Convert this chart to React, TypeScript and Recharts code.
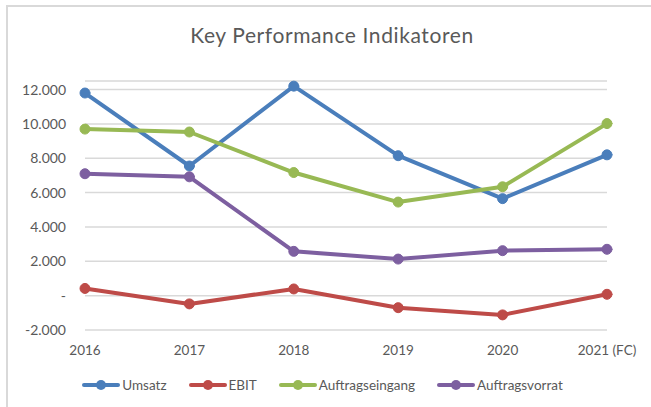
import { LineChart, Line, XAxis, YAxis, CartesianGrid, Legend } from 'recharts'

const years = ['2016', '2017', '2018', '2019', '2020', '2021 (FC)']
const umsatz = [11800, 7550, 12200, 8150, 5650, 8200]
const ebit = [420, -480, 390, -700, -1120, 80]
const auftragseingang = [9700, 9530, 7170, 5450, 6340, 10020]
const auftragsvorrat = [7100, 6920, 2580, 2130, 2620, 2700]
const yTicks = [-2000, 0, 2000, 4000, 6000, 8000, 10000, 12000]

const series = [
  { key: 'umsatz', name: 'Umsatz', color: '#4A7EBB' },
  { key: 'ebit', name: 'EBIT', color: '#BE4B48' },
  { key: 'eingang', name: 'Auftragseingang', color: '#98B954' },
  { key: 'vorrat', name: 'Auftragsvorrat', color: '#7D5FA0' },
]

const data = years.map((year, i) => ({
  year,
  umsatz: umsatz[i],
  ebit: ebit[i],
  eingang: auftragseingang[i],
  vorrat: auftragsvorrat[i],
}))

const font = 'Lato, "Noto Sans", sans-serif'
const textColor = '#595959'

// 12000 -> "12.000", 0 -> "-"
const formatY = (v: number) => {
  if (v === 0) return '-'
  const s = Math.abs(v).toString().replace(/\B(?=(\d{3})+(?!\d))/g, '.')
  return v < 0 ? '-' + s : s
}

function LegendContent() {
  return (
    <div style={{ display: 'flex', justifyContent: 'center', paddingLeft: 16, height: 22, alignItems: 'center' }}>
      {series.map((s) => (
        <div key={s.key} style={{ display: 'flex', alignItems: 'center', marginRight: 22 }}>
          <svg width={38} height={12} style={{ marginRight: 2 }}>
            <line x1={2} y1={6} x2={36} y2={6} stroke={s.color} strokeWidth={4} strokeLinecap="round" />
            <circle cx={19} cy={6} r={5} fill={s.color} />
          </svg>
          <span style={{ fontFamily: font, fontSize: 13.5, color: textColor }}>{s.name}</span>
        </div>
      ))}
    </div>
  )
}

export default function App() {
  return (
    <div style={{ position: 'absolute', left: 0, top: 0, width: 651, height: 407, background: '#fff', overflow: 'hidden' }}>
      <div style={{ position: 'absolute', left: 6, top: 5, width: 700, height: 500, borderTop: '2px solid #d9d9d9', borderLeft: '2px solid #d9d9d9' }} />
      <div style={{ position: 'absolute', left: 0, width: 664, top: 22, textAlign: 'center', fontFamily: font, fontSize: 21, color: textColor, letterSpacing: 0.6 }}>
        Key Performance Indikatoren
      </div>
      <div style={{ position: 'absolute', left: 0, top: 0 }}>
        <LineChart width={651} height={407} data={data} margin={{ top: 81, right: 44, left: 0, bottom: 11 }}>
          <CartesianGrid vertical={false} stroke="#d9d9d9" strokeWidth={1.5} />
          <XAxis
            dataKey="year"
            axisLine={false}
            tickLine={false}
            tickSize={0}
            tickMargin={15}
            height={44}
            interval={0}
            tick={{ fill: textColor, fontSize: 13.5, fontFamily: font }}
          />
          <YAxis
            domain={[-2000, 12500]}
            ticks={yTicks}
            tickFormatter={formatY}
            axisLine={false}
            tickLine={false}
            tickSize={0}
            tickMargin={19}
            width={85}
            tick={{ fill: textColor, fontSize: 14, fontFamily: font }}
          />
          <Legend verticalAlign="bottom" content={() => <LegendContent />} wrapperStyle={{ left: 0, width: 651 }} />
          {series.map((s) => (
            <Line
              key={s.key}
              dataKey={s.key}
              name={s.name}
              stroke={s.color}
              strokeWidth={4}
              strokeLinecap="round"
              strokeLinejoin="round"
              dot={{ r: 5, fill: s.color, stroke: s.color, strokeWidth: 1 }}
              activeDot={false}
              isAnimationActive={false}
            />
          ))}
        </LineChart>
      </div>
    </div>
  )
}
